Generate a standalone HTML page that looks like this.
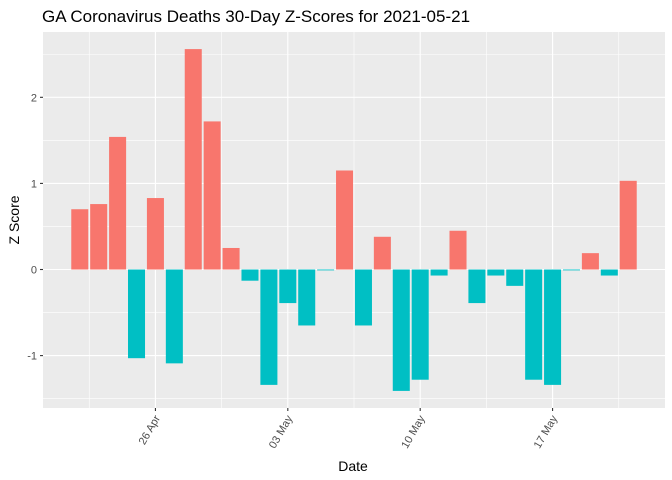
<!DOCTYPE html>
<html><head><meta charset="utf-8"><style>body{margin:0;background:#fff}svg{display:block;font-family:"Liberation Sans",sans-serif}</style></head>
<body>
<svg id="c" width="672" height="480">
<text x="42" y="22" font-size="17" fill="#000">GA Coronavirus Deaths 30-Day Z-Scores for 2021-05-21</text>
<text x="353" y="471" font-size="14" text-anchor="middle" fill="#000">Date</text>
<text transform="translate(19,220) rotate(-90)" font-size="14" text-anchor="middle" fill="#000">Z Score</text>
</svg>
<script>
const startDate = "2021-04-22";
const values = [0.70,0.76,1.54,-1.03,0.83,-1.09,2.56,1.72,0.25,-0.13,-1.34,-0.39,-0.65,-0.01,1.15,-0.65,0.38,-1.41,-1.28,-0.07,0.45,-0.39,-0.07,-0.19,-1.28,-1.34,-0.01,0.19,-0.07,1.03];
const yTicks = [-1,0,1,2];
const xTickDays = [4,11,18,25];
const xTickLabels = ["26 Apr","03 May","10 May","17 May"];

const ns="http://www.w3.org/2000/svg", svg=document.getElementById('c');
const L=43,R=665,T=32,B=408;
const n=values.length;
const xmin=-0.45-(n-1+0.9)*0.05, xmax=n-1+0.45+(n-1+0.9)*0.05;
const vmin=Math.min(0,...values), vmax=Math.max(0,...values), pad=(vmax-vmin)*0.05;
const ymin=vmin-pad, ymax=vmax+pad;
const x=d=>L+(d-xmin)/(xmax-xmin)*(R-L);
const y=v=>B-(v-ymin)/(ymax-ymin)*(B-T);
function mk(t,a,p){const e=document.createElementNS(ns,t);for(const k in a)e.setAttribute(k,a[k]);(p||svg).appendChild(e);return e;}
const bg=mk('rect',{x:L,y:T,width:R-L,height:B-T,fill:'#ebebeb'});


for(let v=Math.ceil(ymin*2)/2;v<=ymax;v+=0.5){if(Math.abs(v-Math.round(v))<1e-9)continue;
 const g=mk('line',{x1:L,x2:R,y1:y(v),y2:y(v),stroke:'#fff','stroke-width':0.6});
 
 }
for(let i=0;i<=xTickDays.length;i++){const d=(i==0?xTickDays[0]-3.5:xTickDays[i-1]+3.5);if(x(d)<L||x(d)>R)continue;
 const g=mk('line',{x1:x(d),x2:x(d),y1:T,y2:B,stroke:'#fff','stroke-width':0.6});
 
 }
yTicks.forEach(v=>{
 const g=mk('line',{x1:L,x2:R,y1:y(v),y2:y(v),stroke:'#fff','stroke-width':1.1});
 
 
 mk('line',{x1:L-3,x2:L,y1:y(v),y2:y(v),stroke:'#333','stroke-width':1.1});
 const t=mk('text',{x:L-6,y:y(v)+4,'font-size':11,'text-anchor':'end',fill:'#4d4d4d'});t.textContent=v;
 
 
});
xTickDays.forEach((d,i)=>{
 const g=mk('line',{x1:x(d),x2:x(d),y1:T,y2:B,stroke:'#fff','stroke-width':1.1});
 
 
 mk('line',{x1:x(d),x2:x(d),y1:B,y2:B+3,stroke:'#333','stroke-width':1.1});
 const t=mk('text',{transform:`translate(${x(d)+5},${B+10}) rotate(-60)`,'font-size':11,'text-anchor':'end',fill:'#4d4d4d'});t.textContent=xTickLabels[i];
 
 
});
values.forEach((v,i)=>{
 const y0=y(0),y1=y(v);
 const r=mk('rect',{x:x(i-0.45),width:x(i+0.45)-x(i-0.45),y:Math.min(y0,y1),height:Math.max(Math.abs(y1-y0),0.5),fill:v>=0?'#f8766d':'#00bfc4'});
 
 
});
</script>
</body></html>
